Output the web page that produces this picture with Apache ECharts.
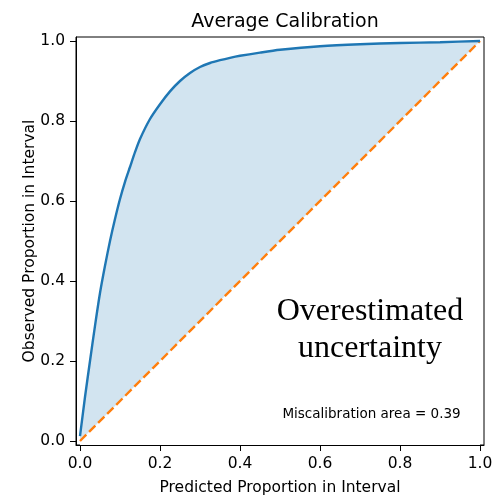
<!DOCTYPE html>
<html>
<head>
<meta charset="utf-8">
<title>Average Calibration</title>
<script src="https://cdn.jsdelivr.net/npm/echarts@6/dist/echarts.min.js"></script>
<style>
  html, body { margin: 0; padding: 0; background: #fff; }
  #chart { width: 494px; height: 496px; }
</style>
</head>
<body>
<div id="chart"></div>
<script>
// Expected vs. observed proportion of targets falling in the prediction interval
const predicted = [0, 0.0125, 0.025, 0.0375, 0.05, 0.0625, 0.075, 0.0875, 0.1, 0.1125, 0.125, 0.1375,
  0.15, 0.175, 0.2, 0.225, 0.25, 0.275, 0.3, 0.325, 0.35, 0.375, 0.4, 0.45, 0.5, 0.6, 0.7, 0.8, 0.9, 1.0];
const observed = [0.012, 0.11, 0.2, 0.288, 0.37, 0.438, 0.5, 0.555, 0.605, 0.648, 0.685, 0.722,
  0.755, 0.805, 0.842, 0.874, 0.9, 0.92, 0.935, 0.945, 0.952, 0.958, 0.963, 0.971, 0.978, 0.987, 0.992, 0.995, 0.997, 1.0];

// Perfect calibration reference
const idealX = [0, 1];
const idealY = [0, 1];

const tickValues = [0, 0.2, 0.4, 0.6, 0.8, 1.0];

// Area between the calibration curve and the diagonal (trapezoid rule)
function miscalibrationArea(xs, ys) {
  let a = 0;
  for (let i = 1; i < xs.length; i++) {
    const d0 = Math.abs(ys[i - 1] - xs[i - 1]);
    const d1 = Math.abs(ys[i] - xs[i]);
    a += (d0 + d1) / 2 * (xs[i] - xs[i - 1]);
  }
  return a;
}

const curve = predicted.map((x, i) => [x, observed[i]]);
const ideal = idealX.map((x, i) => [x, idealY[i]]);
const areaText = 'Miscalibration area = ' + miscalibrationArea(predicted, observed).toFixed(2);

const FONT = 'DejaVu Sans';
const fmt = v => Number(v).toFixed(1);

function axisCommon(name, gap) {
  return {
    type: 'value',
    min: -0.01,
    max: 1.01,
    z: 10,
    name: name,
    nameLocation: 'middle',
    nameGap: gap,
    nameMoveOverlap: false,
    nameTextStyle: { fontFamily: FONT, fontSize: 15.5, color: '#000' },
    axisLine: { show: true, onZero: false, lineStyle: { color: '#000', width: 1 } },
    axisTick: { show: true, customValues: tickValues, length: 6, lineStyle: { color: '#000', width: 1 } },
    axisLabel: { show: true, customValues: tickValues, formatter: fmt, margin: 11,
      fontFamily: FONT, fontSize: 15.5, color: '#000' },
    splitLine: { show: false }
  };
}

const chart = echarts.init(document.getElementById('chart'), null, { renderer: 'canvas' });

chart.setOption({
  animation: false,
  backgroundColor: '#fff',
  title: {
    text: 'Average Calibration',
    left: 280,
    textAlign: 'center',
    top: 8,
    textStyle: { fontFamily: FONT, fontSize: 19, fontWeight: 'normal', color: '#000' }
  },
  grid: {
    left: 76, right: 10, top: 37, bottom: 51,
    show: true, borderColor: '#000', borderWidth: 1,
    containLabel: false, outerBoundsMode: 'none'
  },
  xAxis: axisCommon('Predicted Proportion in Interval', 35),
  yAxis: axisCommon('Observed Proportion in Interval', 38),
  series: [
    {
      // shaded region under the calibration curve
      type: 'line', data: curve, showSymbol: false, silent: true, z: 1,
      smooth: 0.25,
      lineStyle: { width: 0 },
      areaStyle: { color: '#d2e4f0', opacity: 1, origin: 'start' }
    },
    {
      // clear the region under the diagonal so only the gap stays shaded
      type: 'line', data: ideal, showSymbol: false, silent: true, z: 2,
      lineStyle: { width: 0 },
      areaStyle: { color: '#ffffff', opacity: 1, origin: 'start' }
    },
    {
      name: 'Ideal', type: 'line', data: ideal, showSymbol: false, z: 3,
      lineStyle: { color: '#ff7f0e', width: 2.4, type: [8.9, 3.9] }
    },
    {
      name: 'Calibration', type: 'line', data: curve, showSymbol: false, z: 4,
      smooth: 0.25,
      lineStyle: { color: '#1f77b4', width: 2.4 }
    }
  ],
  graphic: [
    {
      type: 'text', x: 370, y: 330.5, z: 20,
      style: {
        text: 'Overestimated\nuncertainty',
        fontFamily: 'Liberation Serif', fontSize: 32, lineHeight: 37,
        fill: '#000', align: 'center', verticalAlign: 'middle'
      }
    },
    {
      type: 'text', x: 371.5, y: 414.5, z: 20,
      style: {
        text: areaText,
        fontFamily: FONT, fontSize: 13.5,
        fill: '#000', align: 'center', verticalAlign: 'middle'
      }
    }
  ]
});
</script>
</body>
</html>
